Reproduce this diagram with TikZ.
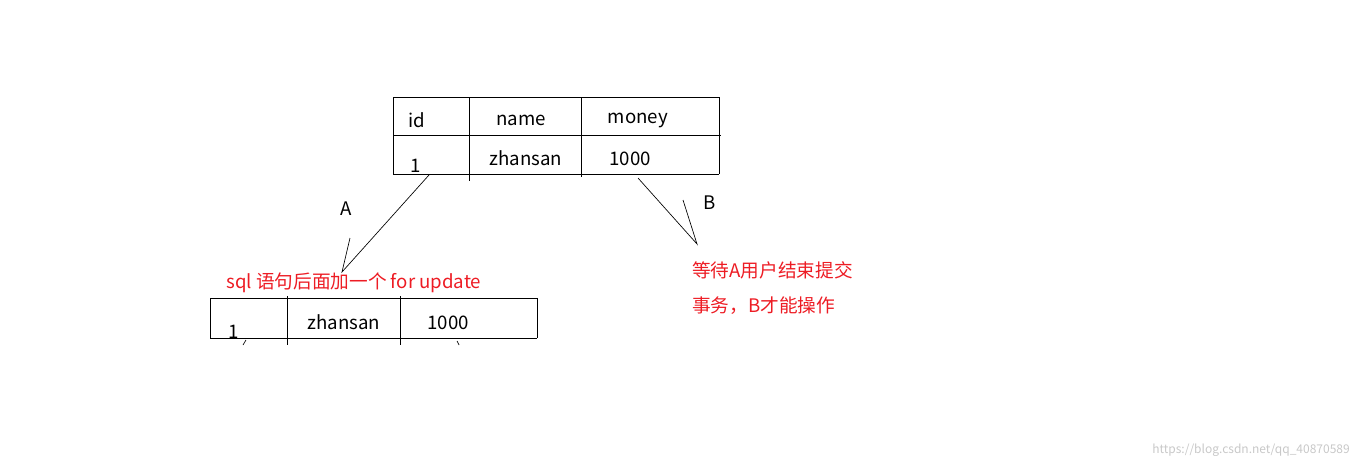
\documentclass[tikz,border=0pt]{standalone}
\usepackage{fontspec}
\setmainfont{Noto Sans CJK SC}
\begin{document}
\begin{tikzpicture}[x=0.75pt,y=-0.75pt,
  ln/.style={line width=0.75pt},
  thin/.style={line width=0.5pt},
  txt/.style={font=\fontsize{14}{16}\selectfont, inner sep=0pt},
  red/.style={txt, text={rgb,255:red,237;green,28;blue,36}, anchor=west}]
\useasboundingbox (0,0) rectangle (1360,468);
% top table
\draw[ln] (393,97) -- (719,97) (393,135) -- (721,135) (393,174) -- (719,174);
\draw[ln] (393,97) -- (393,174) (469,97) -- (469,181) (581,97) -- (581,177) (719,97) -- (719,174);
\node[txt] (id) at (417,120) {id};
\node[txt] (nm) at (521,120) {name};
\node[txt] (mo) at (638,120) {money};
\node[txt] (one) at (416,166) {1};
\node[txt] (zs) at (526,158) {zhansan};
\node[txt] (m1) at (630,159) {1000};
% lower table
\draw[ln] (210,298) -- (538,298) (210,338) -- (537,338);
\draw[ln] (210,298) -- (210,338) (287,296) -- (287,345) (400,296) -- (400,345) (537,298) -- (537,338);
\draw[thin] (243,345) -- (246,340) (457,341) -- (459,345);
\node[txt] (one2) at (234,332) {1};
\node[txt] (zs2) at (344,322) {zhansan};
\node[txt] (m2) at (448,323) {1000};
% connectors
\coordinate (a0) at (429,175); \coordinate (a1) at (342,272); \coordinate (a2) at (350,238);
\coordinate (b0) at (638,178); \coordinate (b1) at (697,244); \coordinate (b2) at (683,200);
\draw[thin] (a0) -- (a1) -- (a2);
\draw[thin] (b0) -- (b1) -- (b2);
\node[txt] (A) at (346,209) {A};
\node[txt] (B) at (710,203) {B};
\node[red] (sql) at (226,283) {sql 语句后面加一个 for update};
\node[red] (w1) at (692,270) {等待A用户结束提交};
\node[red] (w2) at (692,306) {事务，B才能操作};
\node[anchor=east, inner sep=0pt, font=\fontsize{9}{10}\selectfont, text={rgb,255:red,200;green,200;blue,200}] (wm) at (1350,450) {https://blog.csdn.net/qq\_40870589};
\end{tikzpicture}
\end{document}
